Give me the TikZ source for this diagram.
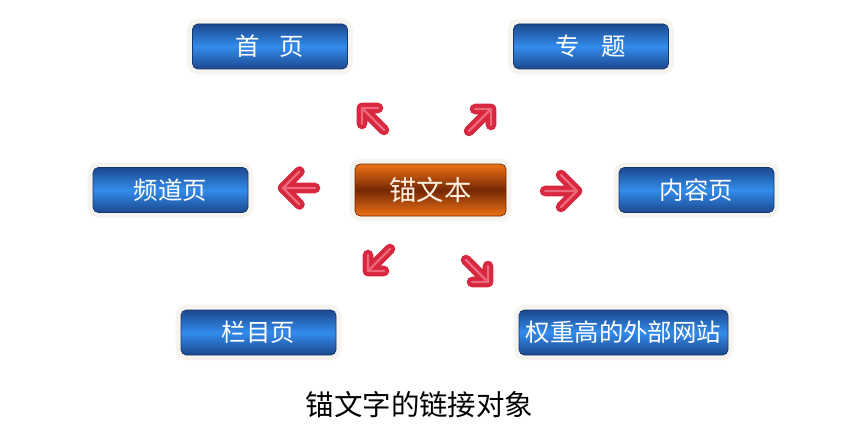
\documentclass[tikz,border=0pt]{standalone}
\usepackage{fontspec}
\usepackage{xcolor}
\usepackage{tikz}
\usetikzlibrary{positioning,calc}
\newfontfamily\cjk{Noto Sans CJK SC}
\definecolor{navdark}{RGB}{28,72,142}
\definecolor{navlight}{RGB}{50,140,236}
\definecolor{navedge}{RGB}{22,56,108}
\definecolor{anchordark}{RGB}{116,40,4}
\definecolor{anchorlight}{RGB}{238,114,22}
\definecolor{anchortext}{RGB}{255,240,222}
\definecolor{halo}{RGB}{246,244,239}
\definecolor{arrowred}{RGB}{216,40,64}
\definecolor{arrowpink}{RGB}{236,104,122}

\begin{document}
\begin{tikzpicture}[node distance=1.5cm,
    navbox/.style={rectangle, rounded corners=3pt, draw=navedge, top color=navdark, bottom color=navdark, middle color=navlight, text=white, font=\cjk\fontsize{13.9}{16}\selectfont, minimum width=3.1cm, minimum height=0.9cm, inner sep=0pt, preaction={draw=halo, line width=6pt}},
    anchorbox/.style={navbox, draw=anchordark, top color=anchorlight, bottom color=anchorlight, middle color=anchordark, text=anchortext, font=\cjk\fontsize{15.6}{18}\selectfont, minimum width=3.02cm, minimum height=1.04cm},
    pointer/.style={draw=arrowred, line width=6pt, line cap=round, line join=round, postaction={draw=arrowpink, line width=1.3pt}}]
    \useasboundingbox (0,0) rectangle (17.08,-8.6);

    \node [anchorbox] (anchor) at (8.61,-3.80) {锚文本};
    \node [navbox, left of=anchor, node distance=5.2cm] (channel) {频道页};
    \node [navbox, right of=anchor, node distance=5.32cm] (content) {内容页};
    \node [navbox] (home) at (5.40,-0.93) {首\hspace{0.8em}页};
    \node [navbox, right of=home, node distance=6.42cm] (topic) {专\hspace{0.9em}题};
    \node [navbox] (column) at (5.17,-6.65) {栏目页};
    \node [navbox, right of=column, node distance=7.30cm, minimum width=4.18cm] (external) {权重高的外部网站};
    \node [font=\cjk\fontsize{16.2}{19}\selectfont] (caption) at (8.39,-8.10) {锚文字的链接对象};

    % red pointers round the anchor box
    \coordinate (nwTip) at (7.24,-2.16);
    \coordinate (neTip) at (9.82,-2.18);
    \coordinate (swTip) at (7.36,-5.42);
    \coordinate (seTip) at (9.76,-5.64);
    \coordinate (wTip) at (5.66,-3.76);
    \coordinate (eTip) at (11.54,-3.82);

    \draw [pointer] ($(nwTip)+(0.44,-0.44)$) -- (nwTip) -- +(0.32,0) (nwTip) -- +(0,-0.32);
    \draw [pointer] ($(neTip)+(-0.44,-0.44)$) -- (neTip) -- +(-0.32,0) (neTip) -- +(0,-0.32);
    \draw [pointer] ($(swTip)+(0.44,0.44)$) -- (swTip) -- +(0.32,0) (swTip) -- +(0,0.32);
    \draw [pointer] ($(seTip)+(-0.44,0.44)$) -- (seTip) -- +(-0.32,0) (seTip) -- +(0,0.32);
    \draw [pointer] ($(wTip)+(0.64,0)$) -- (wTip) -- +(0.33,0.33) (wTip) -- +(0.33,-0.33);
    \draw [pointer] ($(eTip)+(-0.64,0)$) -- (eTip) -- +(-0.32,0.32) (eTip) -- +(-0.32,-0.32);
\end{tikzpicture}
\end{document}
